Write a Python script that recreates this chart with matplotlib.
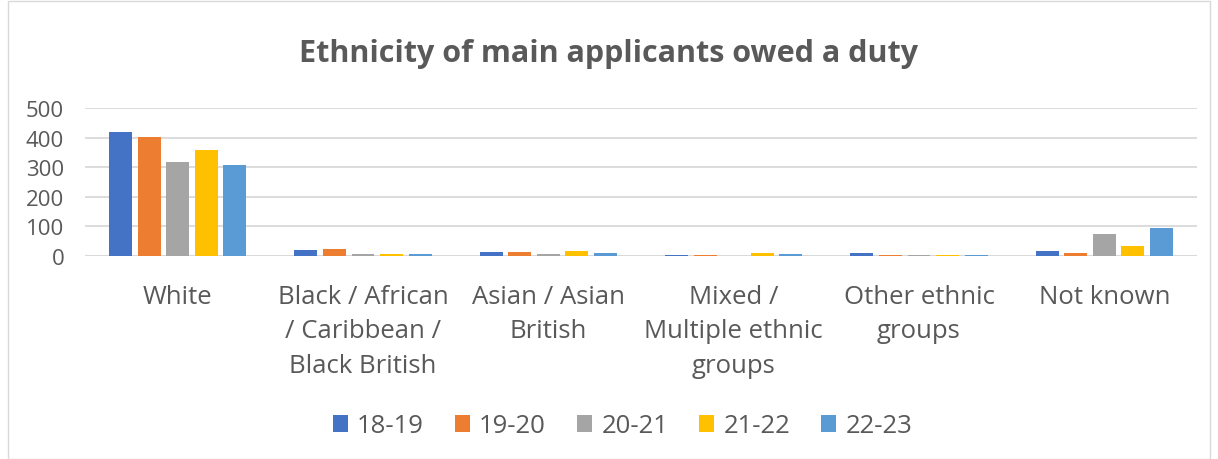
import numpy as np
import matplotlib

matplotlib.use("Agg")
import matplotlib.pyplot as plt
from matplotlib.patches import Rectangle

# values
categories = [
    "White",
    "Black / African\n/ Caribbean /\nBlack British",
    "Asian / Asian\nBritish",
    "Mixed /\nMultiple ethnic\ngroups",
    "Other ethnic\ngroups",
    "Not known",
]
years = ["18-19", "19-20", "20-21", "21-22", "22-23"]
v_18_19 = [418, 20, 14, 5, 10, 17]
v_19_20 = [403, 25, 12, 4, 5, 11]
v_20_21 = [319, 8, 6, 1, 5, 73]
v_21_22 = [357, 7, 17, 9, 2, 35]
v_22_23 = [307, 7, 11, 8, 4, 93]
series = [v_18_19, v_19_20, v_20_21, v_21_22, v_22_23]
colors = ["#4472C4", "#ED7D31", "#A5A5A5", "#FFC000", "#5B9BD5"]

text_col = "#595959"
plt.rcParams["font.family"] = ["Open Sans", "DejaVu Sans"]

fig = plt.figure(figsize=(12.18, 4.6), dpi=100)
ax = fig.add_axes([85 / 1218, 1 - 257 / 460, 1112 / 1218, 148 / 460])

x = np.arange(len(categories))
step = 0.154
width = 0.124
for i, (vals, col, yr) in enumerate(zip(series, colors, years)):
    ax.bar(x + (i - 2) * step, vals, width=width, color=col, label=yr, zorder=3)

ax.set_xlim(-0.5, len(categories) - 0.5)
ax.set_ylim(0, 500)
ax.set_yticks(range(0, 501, 100))
ax.grid(axis="y", color="#d9d9d9", linewidth=1.3, zorder=0)
for s in ax.spines.values():
    s.set_visible(False)
ax.axhline(0, color="#d9d9d9", linewidth=1.3, zorder=2)

ax.set_xticks(x)
ax.set_xticklabels(categories, fontsize=18.5, color=text_col, linespacing=1.5, va="top")
ax.tick_params(axis="x", length=0, pad=20)
ax.tick_params(axis="y", length=0, labelsize=16, labelcolor=text_col, pad=15)

fig.text(0.5, 1 - 54 / 460, "Ethnicity of main applicants owed a duty",
         ha="center", va="center", fontsize=22, fontweight="bold", color=text_col)

leg = fig.legend(loc="center", bbox_to_anchor=(0.511, 1 - 427 / 460), ncol=5,
                 frameon=False, fontsize=18.5, handlelength=0.6, handleheight=0.6,
                 columnspacing=1.2, handletextpad=0.35)
for t in leg.get_texts():
    t.set_color(text_col)

# faint chart frame like the original
fig.patches.append(Rectangle((8 / 1218, 0), 1 - 16 / 1218, 1 - 2 / 460,
                             transform=fig.transFigure, fill=False,
                             edgecolor="#d9d9d9", linewidth=1))

fig.savefig("out.png", dpi=100)
